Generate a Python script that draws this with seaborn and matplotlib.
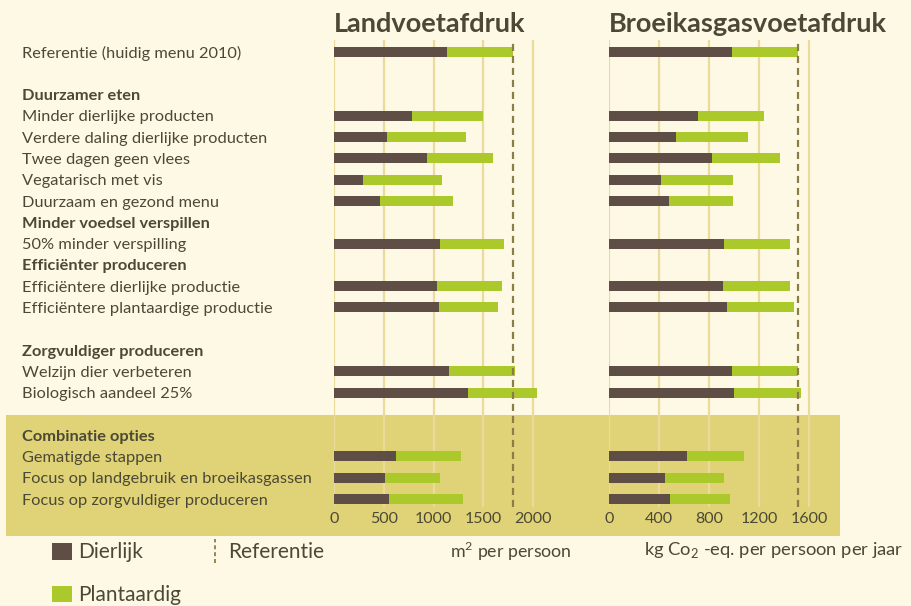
"""Land- en broeikasgasvoetafdruk van menuscenario's (gestapelde staven)."""

import matplotlib

matplotlib.use("Agg")

import matplotlib.pyplot as plt
import pandas as pd
import seaborn as sns
from matplotlib.legend_handler import HandlerBase
from matplotlib.lines import Line2D
from matplotlib.patches import Patch, Rectangle

# --- data -------------------------------------------------------------------
scenarios = [
    "Referentie (huidig menu 2010)",
    "Minder dierlijke producten",
    "Verdere daling dierlijke producten",
    "Twee dagen geen vlees",
    "Vegatarisch met vis",
    "Duurzaam en gezond menu",
    "50% minder verspilling",
    "Efficiëntere dierlijke productie",
    "Efficiëntere plantaardige productie",
    "Welzijn dier verbeteren",
    "Biologisch aandeel 25%",
    "Gematigde stappen",
    "Focus op landgebruik en broeikasgassen",
    "Focus op zorgvuldiger produceren",
]
land_dierlijk = [1140, 780, 535, 935, 295, 465, 1070, 1030, 1050, 1160, 1350, 625, 515, 555]
land_plantaardig = [660, 720, 795, 665, 795, 735, 640, 660, 600, 660, 690, 655, 550, 745]
broei_dierlijk = [985, 715, 535, 825, 415, 480, 920, 915, 945, 985, 1000, 625, 450, 490]
broei_plantaardig = [530, 525, 575, 545, 575, 510, 525, 535, 535, 530, 535, 455, 470, 480]

land_referentie = 1800
broei_referentie = 1510

land_ticks = [0, 500, 1000, 1500, 2000]
broei_ticks = [0, 400, 800, 1200, 1600]

headers = [
    "Duurzamer eten",
    "Minder voedsel verspillen",
    "Efficiënter produceren",
    "Zorgvuldiger produceren",
    "Combinatie opties",
]

# row order of the table, "" = empty row
row_layout = [
    scenarios[0], "",
    headers[0], *scenarios[1:6],
    headers[1], scenarios[6],
    headers[2], scenarios[7], scenarios[8], "",
    headers[3], scenarios[9], scenarios[10], "",
    headers[4], *scenarios[11:14],
]

# --- style ------------------------------------------------------------------
BG = "#fdf9e5"
BAND = "#e0d277"
BROWN = "#5f4e46"
GREEN = "#abc92a"
GRID = "#eadb9c"
REF = "#8a7d48"
TEXT = "#4b4935"
FONT = ["Lato", "DejaVu Sans"]

sns.set_theme(style="white")
plt.rcParams["font.family"] = FONT
plt.rcParams["mathtext.fontset"] = "custom"
plt.rcParams["mathtext.rm"] = "Lato"
plt.rcParams["text.color"] = TEXT

# unique keys so empty rows keep their own slot on the categorical axis
row_keys = [lbl if lbl else f"_leeg{i}" for i, lbl in enumerate(row_layout)]

df = pd.DataFrame({
    "scenario": scenarios,
    "land_dier": land_dierlijk,
    "land_totaal": [d + p for d, p in zip(land_dierlijk, land_plantaardig)],
    "broei_dier": broei_dierlijk,
    "broei_totaal": [d + p for d, p in zip(broei_dierlijk, broei_plantaardig)],
})


class VerticalDashHandler(HandlerBase):
    """Legend handle: a short vertical dashed line."""

    def create_artists(self, legend, orig_handle, xdescent, ydescent,
                       width, height, fontsize, trans):
        x = -xdescent + width * 0.7
        line = Line2D([x, x], [-ydescent - 0.2 * height, -ydescent + 1.2 * height],
                      color=orig_handle.get_color(), lw=1.3,
                      linestyle=(0, (2.2, 1.6)), transform=trans)
        return [line]


fig = plt.figure(figsize=(9.12, 6.06), dpi=100, facecolor=BG)

# highlighted band behind the combination options
fig.patches.append(Rectangle((6 / 912, 1 - 536 / 606), 834 / 912, 121 / 606,
                             transform=fig.transFigure, facecolor=BAND,
                             edgecolor="none", zorder=-10))

bottom, height = 1 - 506.5 / 606, (506.5 - 40.3) / 606
ax_land = fig.add_axes([334 / 912, bottom, 211 / 912, height])
ax_broei = fig.add_axes([609 / 912, bottom, 221 / 912, height])

panels = [
    (ax_land, "land", land_ticks, 2120, land_referentie, "Landvoetafdruk"),
    (ax_broei, "broei", broei_ticks, 1768, broei_referentie, "Broeikasgasvoetafdruk"),
]

for ax, key, ticks, xmax, ref, title in panels:
    ax.set_facecolor("none")
    sns.barplot(data=df, y="scenario", x=f"{key}_totaal", order=row_keys, orient="h",
                color=GREEN, saturation=1, width=0.47, errorbar=None, linewidth=0,
                ax=ax, zorder=3)
    sns.barplot(data=df, y="scenario", x=f"{key}_dier", order=row_keys, orient="h",
                color=BROWN, saturation=1, width=0.47, errorbar=None, linewidth=0,
                ax=ax, zorder=4)
    ax.axvline(ref, color=REF, lw=1.6, linestyle=(0, (3.2, 2.2)), zorder=5)

    ax.set_xlim(0, xmax)
    ax.set_ylim(len(row_keys) - 0.65, -0.55)
    ax.set_xticks(ticks)
    ax.set_xticklabels([str(t) for t in ticks])
    ax.grid(axis="x", color=GRID, lw=1.6, zorder=0)
    ax.grid(axis="y", visible=False)
    ax.tick_params(axis="x", length=0, pad=4, labelsize=11.5, labelcolor=TEXT)
    for spine in ax.spines.values():
        spine.set_visible(False)
    ax.set_ylabel("")
    ax.set_title(title, loc="left", fontsize=19.5, fontweight="bold", color=TEXT, pad=6)

ax_broei.title.set_x(-6 / 221)

# row labels on the left panel, left-aligned
ax_land.set_yticks(range(len(row_layout)))
ax_land.set_yticklabels(row_layout)
ax_land.tick_params(axis="y", length=0, pad=(334 - 22) * 0.72, labelsize=11.8, labelcolor=TEXT)
for lbl in ax_land.get_yticklabels():
    lbl.set_horizontalalignment("left")
    if lbl.get_text() in headers:
        lbl.set_fontweight("bold")
ax_broei.set_yticks([])

ax_land.set_xlabel("m$^2$ per persoon", fontsize=12.8, color=TEXT)
ax_land.xaxis.set_label_coords((511 - 334) / 211, -(540 - 506.5) / 466)
ax_broei.set_xlabel("kg Co$_2$ -eq. per persoon per jaar", fontsize=13.2, color=TEXT)
ax_broei.xaxis.set_label_coords((774 - 609) / 221, -(540 - 506.5) / 466)

handles = [
    Patch(facecolor=BROWN, edgecolor="none"),
    Patch(facecolor=GREEN, edgecolor="none"),
    Line2D([], [], color=REF),
]
fig.legend(handles, ["Dierlijk", "Plantaardig", "Referentie"], ncol=2,
           loc="upper left", bbox_to_anchor=(44 / 912, 1 - 534 / 606),
           frameon=False, fontsize=15, handlelength=0.96, handleheight=0.86,
           handletextpad=0.3, labelspacing=1.1, columnspacing=0.95,
           borderaxespad=0, handler_map={Line2D: VerticalDashHandler()},
           labelcolor=TEXT)

fig.savefig("out.png", dpi=100, facecolor=BG)
